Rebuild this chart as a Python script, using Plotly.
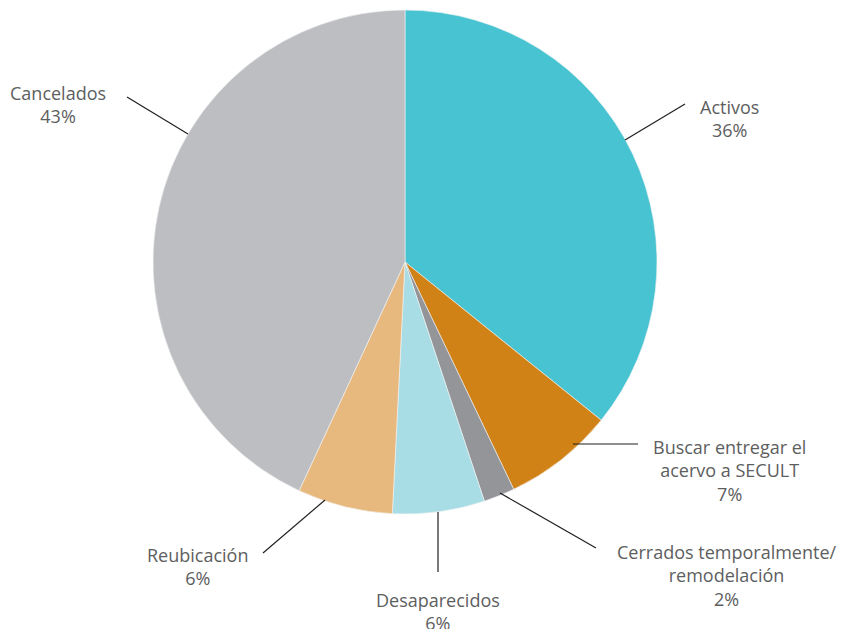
import plotly.graph_objects as go

categories = ["Activos", "Buscar entregar el acervo a SECULT", "Cerrados temporalmente/ remodelación",
              "Desaparecidos", "Reubicación", "Cancelados"]
values = [35.8, 7.1, 2.0, 5.9, 6.1, 43.1]
pct_labels = ["36%", "7%", "2%", "6%", "6%", "43%"]
label_lines = [["Activos"], ["Buscar entregar el", "acervo a SECULT"],
               ["Cerrados temporalmente/", "remodelación"], ["Desaparecidos"],
               ["Reubicación"], ["Cancelados"]]
colors = ["#48C3D2", "#D08216", "#939598", "#A8DDE5", "#E8B97F", "#BCBEC1"]

W, H = 848, 629
OFF = 8  # page body margin
def px(x, y):
    return (x - OFF) / W, 1 - (y - OFF) / H

# leader line (start, end) and label centre (pixels)
leaders = [((625, 140), (685, 104)), ((573, 444), (638, 444)), ((500, 493), (596, 548)),
           ((438, 512), (438, 572)), ((325, 500), (263, 553)), ((188, 134), (127, 97))]
label_pos = [(729, 118), (729, 470), (727, 575), (438, 611), (197, 566), (58, 104)]

x0d, y1d = px(153, 10)
x1d, y0d = px(657, 514)
fig = go.Figure(go.Pie(
    labels=categories, values=values, sort=False, direction="clockwise", rotation=0,
    marker=dict(colors=colors, line=dict(color="#f4f4f4", width=0.6)),
    textinfo="none", hoverinfo="label+percent", showlegend=False,
    domain=dict(x=[x0d, x1d], y=[y0d, y1d]),
))

for (s, e), pos, lines, pct in zip(leaders, label_pos, label_lines, pct_labels):
    x0, y0 = px(*s)
    x1, y1 = px(*e)
    fig.add_shape(type="line", xref="paper", yref="paper", x0=x0, y0=y0, x1=x1, y1=y1,
                  line=dict(color="#231f20", width=1.2))
    lx, ly = px(*pos)
    fig.add_annotation(xref="paper", yref="paper", x=lx, y=ly, showarrow=False,
                       text="<br>".join(lines + [pct]), align="center",
                       xanchor="center", yanchor="middle",
                       font=dict(family="Open Sans", size=18, color="#5d5e60"))

fig.update_layout(width=W, height=H, margin=dict(l=0, r=0, t=0, b=0),
                  paper_bgcolor="white", plot_bgcolor="white")
fig.write_html("out.html")
